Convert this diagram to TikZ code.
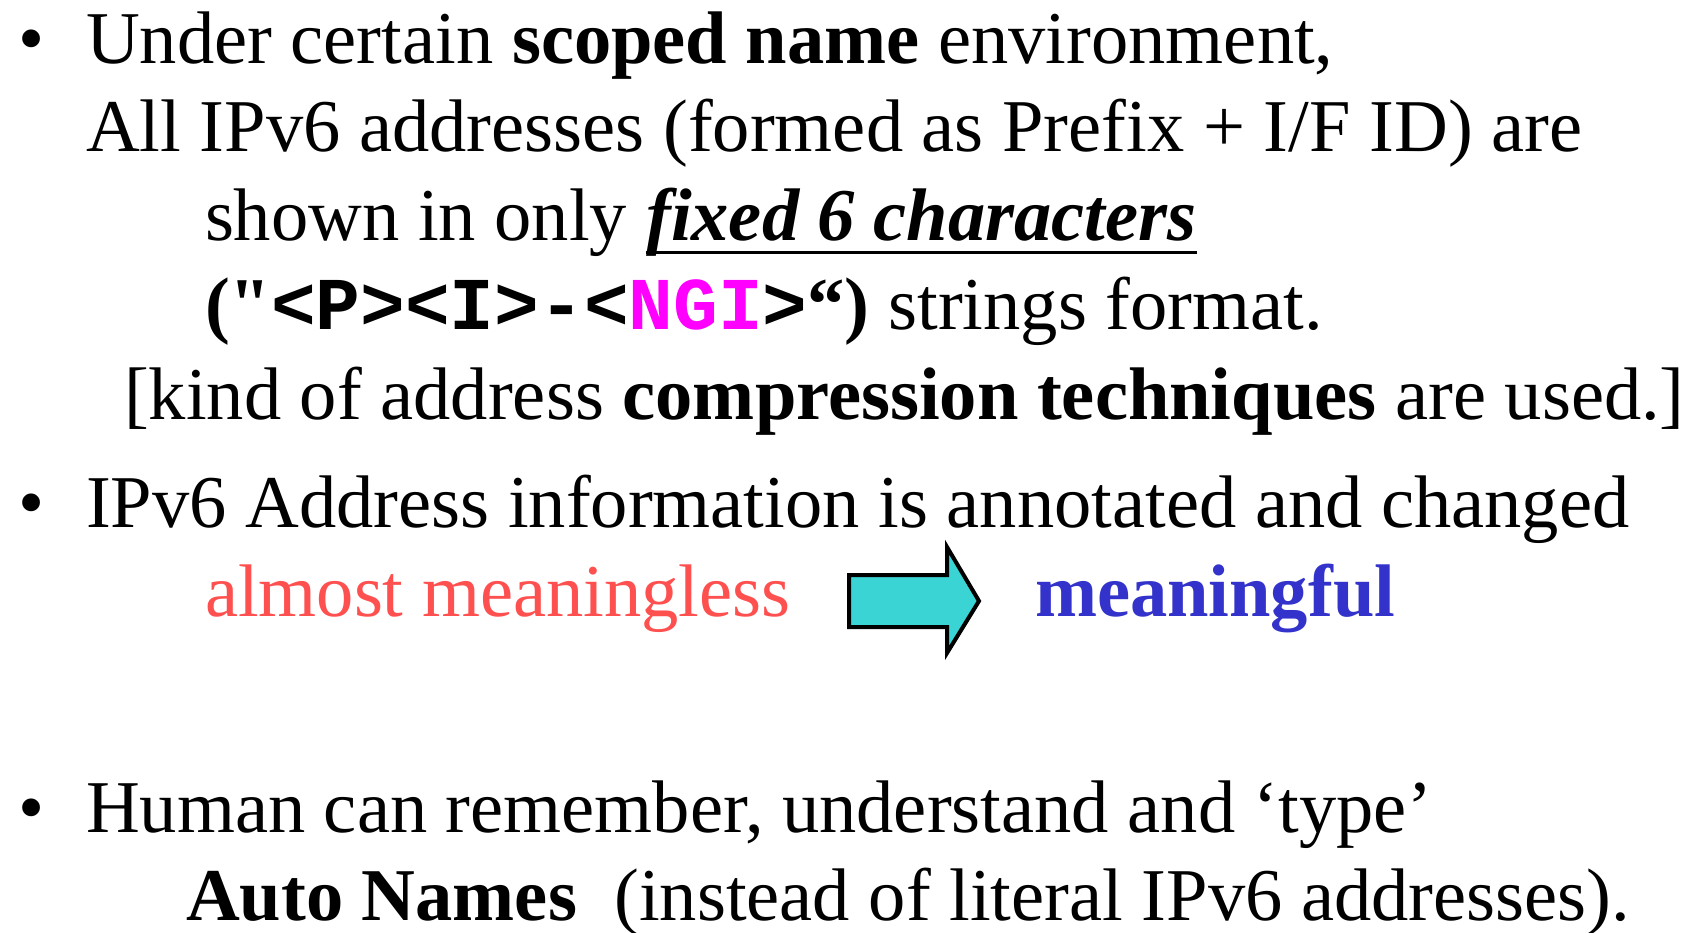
\documentclass[tikz,border=0pt]{standalone}
\usepackage{fontspec}
\setmainfont{Liberation Serif}
\setmonofont{Liberation Mono}
\newfontfamily\rawserif{Liberation Serif}[Ligatures=ResetAll]
\definecolor{ngi}{RGB}{255,0,255}
\definecolor{redtxt}{RGB}{255,80,80}
\definecolor{bluetxt}{RGB}{51,51,204}
\definecolor{arrowfill}{RGB}{59,212,212}
\begin{document}
\begin{tikzpicture}[x=1pt,y=-1pt,
  txt/.style={anchor=base west,inner sep=0pt,outer sep=0pt,font=\fontsize{74.5}{90}\selectfont},
  bul/.style={anchor=base west,inner sep=0pt,font=\fontsize{74.5}{90}\selectfont}]
\useasboundingbox (0,0) rectangle (1694,932);
\node[bul] (b1) at (18,63) {•};
\node[txt] (l1) at (86,63) {Under certain \textbf{scoped name} environment,};
\node[txt] (l2) at (86,151) {All IPv6 addresses (formed as Prefix + I/F ID) are};
\node[txt] (l3a) at (205,240) {shown in only};
\node[txt] (l3b) at ([xshift=19pt]l3a.base east) {\textbf{\textit{fixed 6 characters}}};
\draw[line width=3.5pt] ([yshift=-12.5pt]l3b.base west) -- ([yshift=-12.5pt]l3b.base east);
\node[txt] (l4) at (205,329) {\textbf{({\rawserif\char34}\texttt{<P><I>-<\textcolor{ngi}{NGI}>}“)} strings format.};
\node[txt] (l5) at (124,419) {[kind of address \textbf{compression techniques} are used.]};
\node[bul] (b2) at (18,527) {•};
\node[txt] (l6) at (86,527) {IPv6 Address information is annotated and changed};
\node[txt,text=redtxt] (l7a) at (205,616) {almost meaningless};
\node[txt,text=bluetxt] (l7b) at (1035,616) {\textbf{meaningful}};
\draw[line width=4pt,fill=arrowfill,line join=miter]
  (849,575) -- (947,575) -- (947,547) -- (979,601) -- (947,653) -- (947,627) -- (849,627) -- cycle;
\node[bul] (b3) at (18,832) {•};
\node[txt] (l8) at (86,832) {Human can remember, understand and ‘type’};
\node[txt] (l9) at (186,920) {\textbf{Auto Names}\ \ (instead of literal IPv6 addresses).};
\end{tikzpicture}
\end{document}
